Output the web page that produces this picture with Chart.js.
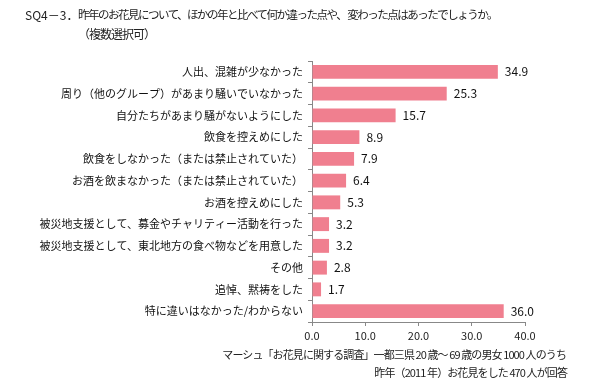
<!DOCTYPE html>
<html>
<head>
<meta charset="utf-8">
<script src="https://cdn.jsdelivr.net/npm/chart.js@4"></script>
<style>
  body { margin: 0; background: #fff; font-family: "Noto Sans CJK JP", sans-serif; }
  #wrap { position: relative; width: 590px; height: 392px; }
  .txt { position: absolute; font-size: 11px; color: #222; white-space: nowrap; line-height: 1; }
</style>
</head>
<body>
<div id="wrap">
  <canvas id="hanamiChart" width="590" height="392"></canvas>
  <div class="txt" style="left:25px; top:9px; font-size:12px;">SQ4－3．</div>
  <div class="txt" style="left:78px; top:9px; font-size:11.5px; letter-spacing:-1.5px;">昨年のお花見について、ほかの年と比べて何か違った点や、&nbsp;変わった点はあったでしょうか。</div>
  <div class="txt" style="left:78px; top:28px; font-size:12px; letter-spacing:-1px;">（複数選択可）</div>
  <div class="txt" style="right:24px; top:349px; letter-spacing:-0.9px;">マーシュ「お花見に関する調査」一都三県 20 歳～ 69 歳の男女 1000 人のうち</div>
  <div class="txt" style="right:23px; top:367px; letter-spacing:-0.9px;">昨年（2011 年）お花見をした 470 人が回答</div>
</div>
<script>
// Categories and values (%)
const categories = [
    '人出、混雑が少なかった',
    '周り（他のグループ）があまり騒いでいなかった',
    '自分たちがあまり騒がないようにした',
    '飲食を控えめにした',
    '飲食をしなかった（または禁止されていた）',
    'お酒を飲まなかった（または禁止されていた）',
    'お酒を控えめにした',
    '被災地支援として、募金やチャリティー活動を行った',
    '被災地支援として、東北地方の食べ物などを用意した',
    'その他',
    '追悼、黙祷をした',
    '特に違いはなかった/わからない'
];
const values = [34.9, 25.3, 15.7, 8.9, 7.9, 6.4, 5.3, 3.2, 3.2, 2.8, 1.7, 36.0];
const xTicks = [0, 10, 20, 30, 40];

// draw value labels right of each bar
const valueLabels = {
    id: 'valueLabels',
    afterDatasetsDraw(chart) {
        const ctx = chart.ctx;
        const meta = chart.getDatasetMeta(0);
        ctx.save();
        ctx.font = '12px "Noto Sans CJK JP", sans-serif';
        ctx.fillStyle = '#111';
        ctx.textBaseline = 'middle';
        ctx.textAlign = 'left';
        meta.data.forEach((bar, i) => {
            ctx.fillText(values[i].toFixed(1), bar.x + 7, bar.y);
        });
        ctx.restore();
    }
};

new Chart(document.getElementById('hanamiChart'), {
    type: 'bar',
    data: {
        labels: categories,
        datasets: [{
            data: values,
            backgroundColor: '#F07F8F',
            categoryPercentage: 0.64,
            barPercentage: 1.0
        }]
    },
    options: {
        indexAxis: 'y',
        responsive: false,
        animation: false,
        layout: { padding: { left: 0, top: 61, right: 65, bottom: 50 } },
        plugins: {
            legend: { display: false },
            tooltip: { enabled: false }
        },
        scales: {
            x: {
                min: 0,
                max: 40,
                afterBuildTicks: (scale) => { scale.ticks = xTicks.map(v => ({ value: v })); },
                afterFit: (scale) => { scale.height = 20; },
                ticks: {
                    callback: (v) => Number(v).toFixed(1),
                    font: { size: 11, family: '"Noto Sans CJK JP", sans-serif' },
                    color: '#222',
                    padding: 3
                },
                grid: { drawOnChartArea: false, tickLength: 4, color: '#888' },
                border: { color: '#888' }
            },
            y: {
                afterFit: (scale) => { scale.width = 312; },
                ticks: {
                    font: { size: 11, family: '"Noto Sans CJK JP", sans-serif' },
                    color: '#111',
                    padding: 5,
                    autoSkip: false
                },
                grid: { offset: true, drawOnChartArea: false, tickLength: 4, color: '#888' },
                border: { color: '#888' }
            }
        }
    },
    plugins: [valueLabels]
});
</script>
</body>
</html>
